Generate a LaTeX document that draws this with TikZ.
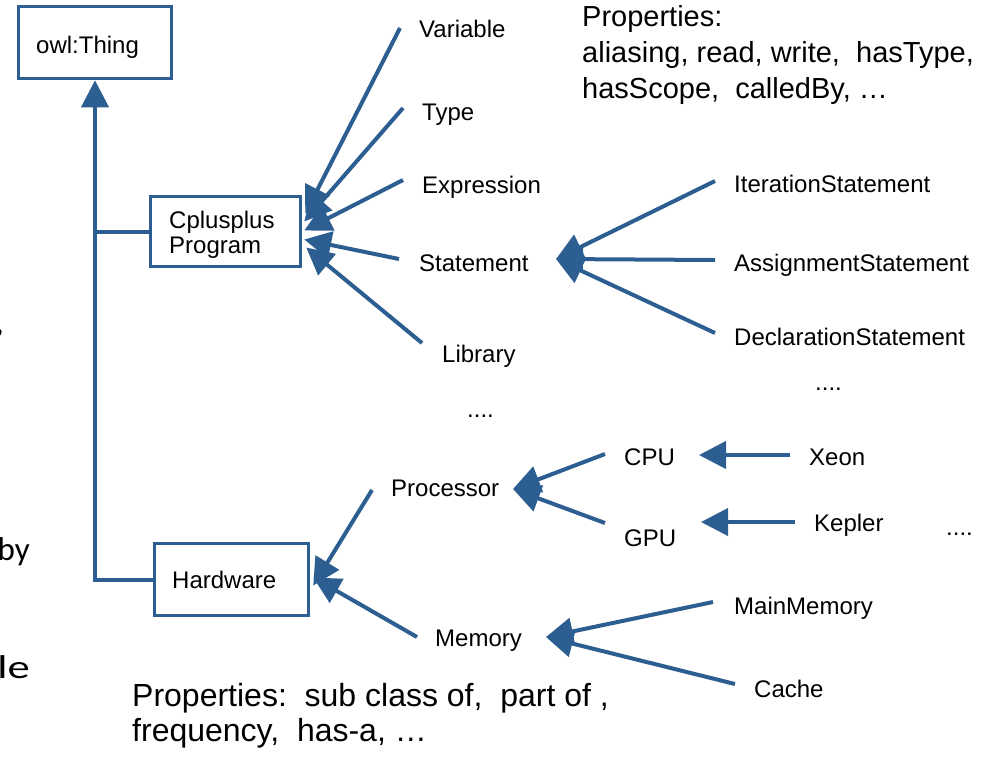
\documentclass[tikz,border=0pt]{standalone}
\usepackage{fontspec}
\setmainfont{Liberation Sans}
\newfontfamily\slidefont{Carlito}
\usetikzlibrary{arrows.meta,calc}
\definecolor{owlblue}{RGB}{44,94,145}
\begin{document}
\begin{tikzpicture}[x=1pt,y=-1pt,
  box/.style={draw=owlblue, line width=3.5pt, inner sep=0pt, fill=white},
  lbl/.style={inner sep=0pt, anchor=base west, font=\fontsize{24}{28}\selectfont},
  props/.style={inner sep=0pt, anchor=base west, align=left},
  frag/.style={inner sep=0pt, anchor=base east, font=\slidefont\fontsize{33}{36}\selectfont},
  isa/.style={draw=owlblue, line width=4pt, -{Triangle[length=27pt,width=27pt]}},
  link/.style={draw=owlblue, line width=4pt}]
\useasboundingbox (0,0) rectangle (990,756);
\clip (0,0) rectangle (990,756);

% fragments of the surrounding slide text
\node[frag] (fragA) at (4,333) {,};
\node[frag] (fragB) at (30,560) {by};
\node[frag] (fragC) at (30,678) {\scalebox{1.35}[1]{le}};

% class boxes
\node[box, minimum width=153pt, minimum height=72pt] (thing) at (95,42.5) {};
\node[box, minimum width=150pt, minimum height=70pt] (cpp) at (225.5,231.5) {};
\node[box, minimum width=154pt, minimum height=72pt] (hw) at (231.5,579.5) {};
\node[lbl] (thingT) at (36,53) {owl:Thing};
\node[lbl, align=left, font=\fontsize{24}{25}\selectfont] (cppT) at (169,253) {Cplusplus\\Program};
\node[lbl] (hwT) at (172,588) {Hardware};

% subclass links to owl:Thing
\draw[isa] (hw.west) -| (thing.south);
\draw[link] (cpp.west) -- (cpp.west -| thing.south);

% program concepts
\node[lbl] (var) at (419,37) {Variable};
\node[lbl] (typ) at (422,120) {Type};
\node[lbl] (expr) at (422,193) {Expression};
\node[lbl] (stmt) at (419,271) {Statement};
\node[lbl] (lib) at (442,362) {Library};
\node[lbl] (dotsA) at (467,417) {....};

\coordinate (varE) at (400,28);
\coordinate (typE) at (403,108);
\coordinate (exprE) at (403,180);
\coordinate (stmtE) at (399,259);
\coordinate (libE) at (422,343);
\coordinate (cppV) at ($(cpp.east)+(3,-18)$);
\coordinate (cppTy) at ($(cpp.east)+(2,-10)$);
\coordinate (cppE) at ($(cpp.east)+(2,-1)$);
\coordinate (cppS) at ($(cpp.east)+(2,8)$);
\coordinate (cppL) at ($(cpp.east)+(4,16)$);
\draw[isa] (varE) -- (cppV);
\draw[isa] (typE) -- (cppTy);
\draw[isa] (exprE) -- (cppE);
\draw[isa] (stmtE) -- (cppS);
\draw[isa] (libE) -- (cppL);

% statement kinds
\node[lbl] (iter) at (734,192) {IterationStatement};
\node[lbl] (assign) at (734,271) {AssignmentStatement};
\node[lbl] (decl) at (734,345) {DeclarationStatement};
\node[lbl] (dotsB) at (815,390) {....};
\coordinate (stmtTip) at (556,259);
\coordinate (iterE) at (715,181);
\coordinate (assignE) at (715,260);
\coordinate (declE) at (715,333);
\draw[isa] (iterE) -- (stmtTip);
\draw[isa] (assignE) -- (stmtTip);
\draw[isa] (declE) -- (stmtTip);

% hardware concepts
\node[lbl] (proc) at (391,496) {Processor};
\node[lbl] (mem) at (435,646) {Memory};
\node[lbl] (cpu) at (624,465) {CPU};
\node[lbl] (gpu) at (624,546) {GPU};
\node[lbl] (xeon) at (809,465) {Xeon};
\node[lbl] (kepler) at (814,531) {Kepler};
\node[lbl] (dotsC) at (946,535) {....};
\node[lbl] (mainmem) at (734,614) {MainMemory};
\node[lbl] (cache) at (754,697) {Cache};

\coordinate (procE) at (372,490);
\coordinate (memE) at (417,637);
\coordinate (hwP) at ($(hw.east)+(3,6)$);
\coordinate (hwM) at ($(hw.east)+(3,-2)$);
\draw[isa] (procE) -- (hwP);
\draw[isa] (memE) -- (hwM);

\coordinate (procTip) at (513,489);
\coordinate (cpuE) at (605,454);
\coordinate (gpuE) at (605,523);
\draw[isa] (cpuE) -- (procTip);
\draw[isa] (gpuE) -- (procTip);

\coordinate (xeonE) at (790,455);
\coordinate (cpuTip) at (699,455);
\coordinate (keplerE) at (795,522);
\coordinate (gpuTip) at (701,522);
\draw[isa] (xeonE) -- (cpuTip);
\draw[isa] (keplerE) -- (gpuTip);

\coordinate (memTip) at (546,637);
\coordinate (mainmemE) at (713,602);
\coordinate (cacheE) at (735,684);
\draw[isa] (mainmemE) -- (memTip);
\draw[isa] (cacheE) -- (memTip);

% property lists
\node[props, font=\fontsize{29}{36}\selectfont] (propsA) at (582,98)
  {Properties:\\aliasing, read, write,\ \ hasType,\\hasScope,\ \ calledBy, \dots};
\node[props, font=\fontsize{32}{35}\selectfont] (propsB) at (132,741)
  {Properties:\ \ sub class of,\ \ part of ,\\frequency,\ \ has-a, \dots};
\end{tikzpicture}
\end{document}
